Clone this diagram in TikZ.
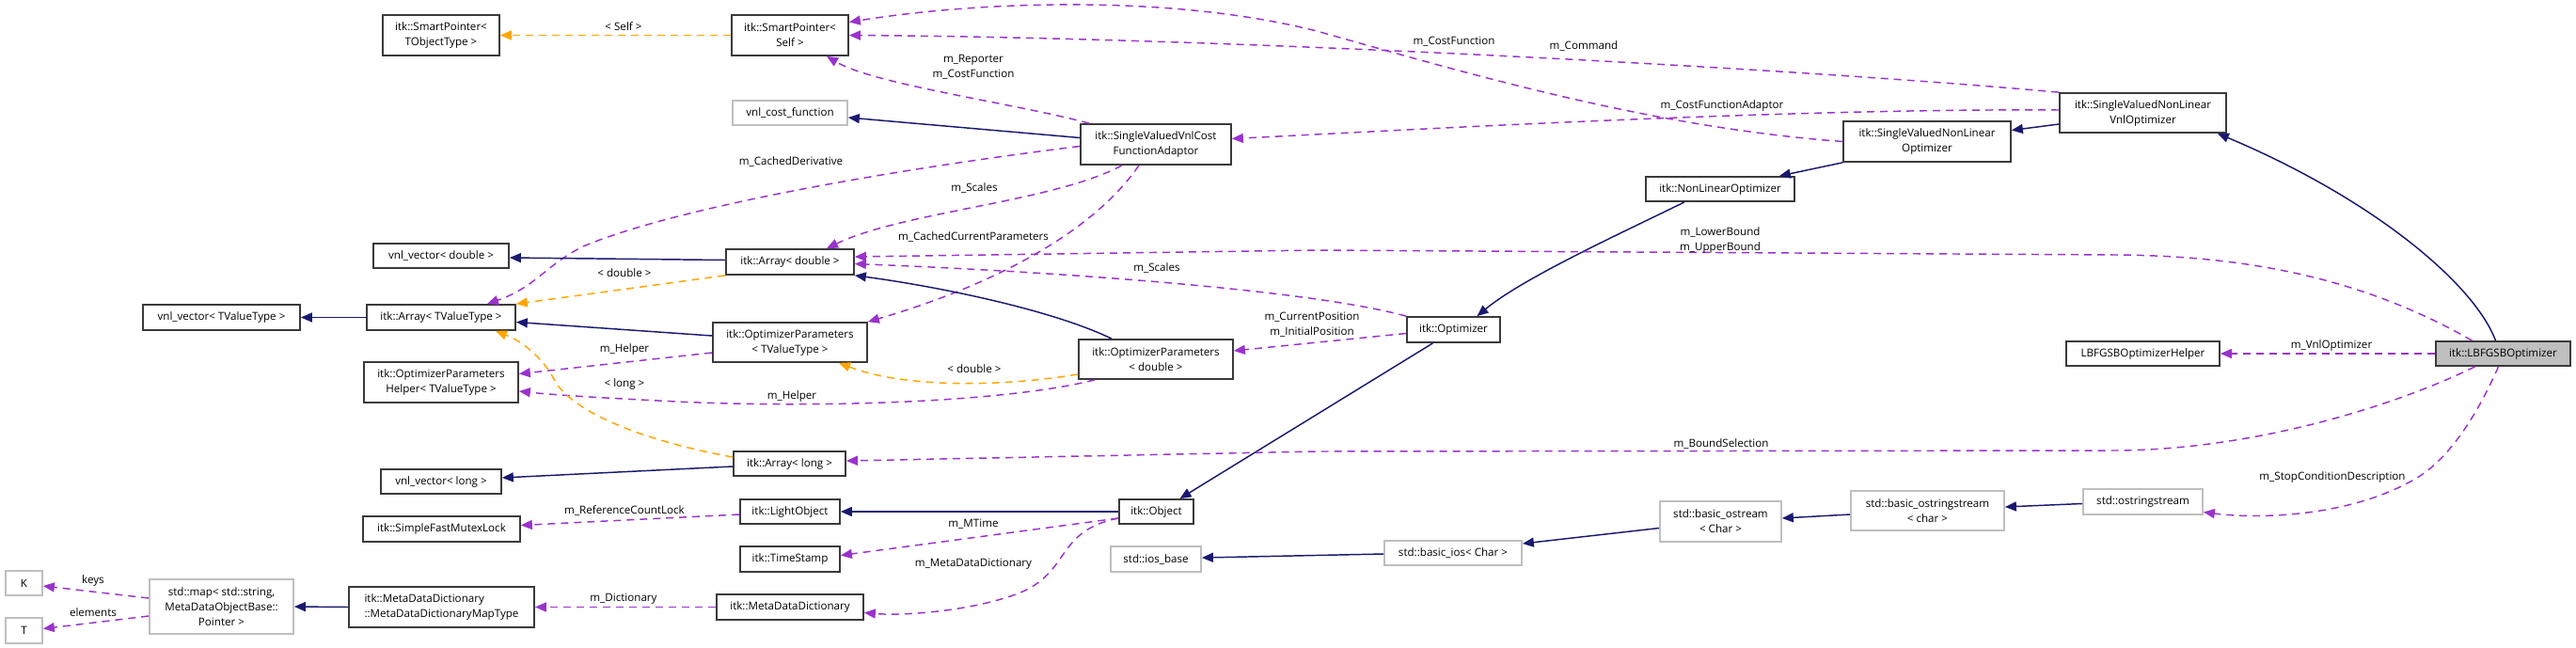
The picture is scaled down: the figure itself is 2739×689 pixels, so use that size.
\documentclass[tikz,border=0pt]{standalone}
\usepackage{fontspec}
\setmainfont{Open Sans}
\usetikzlibrary{arrows.meta,calc}
\definecolor{inh}{HTML}{191970}
\definecolor{use}{HTML}{9A32CD}
\definecolor{tmpl}{HTML}{FFA500}
\definecolor{ubx}{HTML}{BFBFBF}
\definecolor{bxd}{HTML}{3A3A3A}
\newcommand\fs{\fontsize{8.7}{12}\selectfont}
\tikzset{
  box/.style={draw=bxd, line width=1.3pt, fill=white, inner sep=0pt, align=center, font=\fs},
  gbox/.style={box, draw=ubx},
  sz/.style 2 args={minimum width=#1*0.75pt, minimum height=#2*0.75pt},
  inhe/.style={draw=inh, line width=1.1pt, -{Triangle[length=9pt,width=7.5pt]}},
  usee/.style={draw=use, line width=1.1pt, dash pattern=on 6pt off 4.5pt, -{Triangle[length=9pt,width=7.5pt]}},
  tmpe/.style={draw=tmpl, line width=1.1pt, dash pattern=on 6pt off 4.5pt, -{Triangle[length=9pt,width=7.5pt]}},
  lbl/.style={inner sep=0pt, align=center, font=\fs}
}
\begin{document}
\begin{tikzpicture}[x=0.75pt,y=-0.75pt]
\useasboundingbox (0,0) rectangle (2739,689);
% nodes
\node[box,sz={124}{43}] (sptobj) at (469,37.5) {itk::SmartPointer<\\TObjectType >};
\node[box,sz={124}{43}] (spself) at (840,37.5) {itk::SmartPointer<\\Self >};
\node[gbox,sz={122}{26}] (vnlcost) at (840,120) {vnl\_cost\_function};
\node[box,sz={160}{43}] (svcfa) at (1229,153.5) {itk::SingleValuedVnlCost\\FunctionAdaptor};
\node[box,sz={177}{42}] (svnlvnl) at (2278.5,120) {itk::SingleValuedNonLinear\\VnlOptimizer};
\node[box,sz={178}{43}] (svnl) at (2049,150.5) {itk::SingleValuedNonLinear\\Optimizer};
\node[box,sz={158}{26}] (nlo) at (1829,201) {itk::NonLinearOptimizer};
\node[box,sz={144}{26}] (vnlvd) at (469,272) {vnl\_vector< double >};
\node[box,sz={136}{27}] (arrd) at (840,278.5) {itk::Array< double >};
\node[box,sz={167}{27}] (vnlvt) at (235.5,337.5) {vnl\_vector< TValueType >};
\node[box,sz={158}{27}] (arrt) at (469,337.5) {itk::Array< TValueType >};
\node[box,sz={99}{27}] (opt) at (1545.5,350.5) {itk::Optimizer};
\node[box,sz={164}{42}] (optpt) at (840,364) {itk::OptimizerParameters\\< TValueType >};
\node[box,sz={164}{42}] (optpd) at (1229,382) {itk::OptimizerParameters\\< double >};
\node[box,sz={143}{26},fill=ubx] (lbfgsb) at (2661.5,376) {itk::LBFGSBOptimizer};
\node[box,sz={163}{26}] (helper) at (2278.5,376) {LBFGSBOptimizerHelper};
\node[box,sz={164}{43}] (opth) at (469,406.5) {itk::OptimizerParameters\\Helper< TValueType >};
\node[box,sz={119}{26}] (arrl) at (839.5,493) {itk::Array< long >};
\node[box,sz={128}{26}] (vnlvl) at (469,512) {vnl\_vector< long >};
\node[gbox,sz={127}{27}] (ostrs) at (2278.5,533.5) {std::ostringstream};
\node[gbox,sz={163}{42}] (bostrs) at (2049.5,543) {std::basic\_ostringstream\\< char >};
\node[gbox,sz={129}{43}] (bos) at (1829.5,554.5) {std::basic\_ostream\\< Char >};
\node[box,sz={106}{26}] (light) at (840,544) {itk::LightObject};
\node[box,sz={79}{26}] (obj) at (1229.5,544) {itk::Object};
\node[box,sz={167}{27}] (mutex) at (469.5,562.5) {itk::SimpleFastMutexLock};
\node[gbox,sz={146}{26}] (bios) at (1545,588) {std::basic\_ios< Char >};
\node[box,sz={106}{27}] (tstamp) at (840,594.5) {itk::TimeStamp};
\node[gbox,sz={96}{27}] (iosb) at (1229,594.5) {std::ios\_base};
\node[box,sz={156}{27}] (mdd) at (840,645.5) {itk::MetaDataDictionary};
\node[box,sz={197}{43},align=left] (mddmt) at (469.5,645.5) {itk::MetaDataDictionary\\::MetaDataDictionaryMapType};
\node[gbox,sz={153}{58}] (stdmap) at (235.5,645) {std::map< std::string,\\MetaDataObjectBase::\\Pointer >};
\node[gbox,sz={39}{26}] (K) at (25.5,620) {K};
\node[gbox,sz={39}{27}] (T) at (25.5,670.5) {T};
% edges
\draw[tmpe] (spself.west) -- (sptobj.east);
\draw[usee] (svnlvnl.north west) .. controls (1900,72) and (1300,40) .. (spself.east);
\draw[usee] (svnl.west) .. controls (1750,135) and (1550,75) .. (1400,33) .. controls (1250,-5) and (1050,0) .. ($(spself.east)+(0,-14)$);
\draw[usee] ($(svnlvnl.west)+(0,-3)$) .. controls (1900,115) and (1500,138) .. ($(svcfa.east)+(0,-6)$);
\draw[inhe] ($(svnlvnl.west)+(0,12)$) -- ($(svnl.east)+(0,-12)$);
\draw[inhe] (svnl.south west) -- ($(nlo.north east)+(-17,0)$);
\draw[inhe] ($(nlo.south)+(-38,0)$) .. controls (1730,245) and (1620,295) .. ($(opt.north)+(25,0)$);
\draw[inhe] ($(opt.south)+(-22,0)$) -- ($(obj.north)+(25,0)$);
\draw[inhe] (obj.west) -- (light.east);
\draw[usee] ($(light.west)+(0,3)$) -- ($(mutex.east)+(0,-4)$);
\draw[usee] ($(obj.west)+(0,7)$) -- ($(tstamp.east)+(0,-4)$);
\draw[usee] ($(obj.west)+(0,7)$) .. controls (1120,565) and (1140,610) .. (1080,632) .. controls (1030,650) and (960,655) .. ($(mdd.east)+(0,6)$);
\draw[usee] (mdd.west) -- (mddmt.east);
\draw[inhe] (mddmt.west) -- (stdmap.east);
\draw[usee] ($(stdmap.west)+(0,-9)$) -- ($(K.east)+(0,3)$);
\draw[usee] ($(stdmap.west)+(0,10)$) -- ($(T.east)+(0,-2)$);
\draw[usee] ($(opt.west)+(0,4)$) -- ($(optpd.east)+(0,-9)$);
\draw[usee] (opt.north west) .. controls (1400,310) and (1150,290) .. ($(arrd.east)+(0,2)$);
\draw[usee] ($(svcfa.north west)+(10,0)$) .. controls (1080,110) and (930,90) .. ($(spself.south)+(39,0)$);
\draw[inhe] ($(svcfa.west)+(0,-7)$) -- ($(vnlcost.east)+(0,5)$);
\draw[usee] ($(svcfa.west)+(0,2)$) .. controls (950,180) and (720,220) .. (620,262) .. controls (580,282) and (570,305) .. ($(arrt.north)+(49,0)$);
\draw[usee] ($(svcfa.south)+(-36,0)$) .. controls (1120,215) and (960,225) .. ($(arrd.north)+(39,0)$);
\draw[usee] ($(svcfa.south)+(-18,0)$) .. controls (1160,250) and (1050,305) .. (optpt.north east);
\draw[inhe] ($(arrd.west)+(0,-2)$) -- ($(vnlvd.east)+(0,2)$);
\draw[inhe] (arrt.west) -- (vnlvt.east);
\draw[tmpe] (arrd.south west) -- (arrt.north east);
\draw[inhe] ($(optpt.west)+(0,-7)$) -- ($(arrt.east)+(0,5)$);
\draw[inhe] ($(optpd.north)+(-47,0)$) .. controls (1120,330) and (1000,305) .. (arrd.south east);
\draw[tmpe] ($(optpd.west)+(0,16)$) .. controls (1060,412) and (960,412) .. ($(optpt.south)+(52,0)$);
\draw[usee] ($(optpt.west)+(0,11)$) -- ($(opth.east)+(0,-9)$);
\draw[usee] ($(optpd.south)+(-65,0)$) .. controls (1070,428) and (860,435) .. (700,426) .. controls (640,423) and (590,420) .. ($(opth.east)+(0,9.5)$);
\draw[inhe] ($(arrl.west)+(0,3)$) -- ($(vnlvl.east)+(0,-4)$);
\draw[tmpe] ($(arrl.west)+(0,-7)$) .. controls (690,470) and (610,440) .. (590,405) .. controls (580,385) and (560,365) .. ($(arrt.south)+(58,0)$);
\draw[usee] ($(lbfgsb.south)+(-30,0)$) .. controls (2550,430) and (2400,478) .. (2250,479) -- (1400,480) -- ($(arrl.east)+(0,-3)$);
\draw[usee] ($(lbfgsb.north)+(-33,0)$) .. controls (2520,300) and (2400,272) .. (2250,271) -- (1400,266) -- ($(arrd.east)+(0,-5.5)$);
\draw[inhe] ($(lbfgsb.north)+(-8,0)$) .. controls (2630,300) and (2520,210) .. ($(svnlvnl.south east)+(-10,0)$);
\draw[usee] (lbfgsb.west) -- (helper.east);
\draw[usee] ($(lbfgsb.south)+(-5,0)$) .. controls (2630,450) and (2600,490) .. (2570,508) .. controls (2500,550) and (2400,552) .. ($(ostrs.east)+(0,11)$);
\draw[inhe] ($(ostrs.west)+(0,2)$) -- ($(bostrs.east)+(0,-4)$);
\draw[inhe] ($(bostrs.west)+(0,4)$) -- ($(bos.east)+(0,-3.5)$);
\draw[inhe] ($(bos.west)+(0,7)$) -- ($(bios.east)+(0,-10)$);
\draw[inhe] ($(bios.west)+(0,1)$) -- ($(iosb.east)+(0,-1.5)$);
% labels
\node[lbl] (l1) at (663,28) {< Self >};
\node[lbl] (l2) at (1546,44) {m\_CostFunction};
\node[lbl] (l3) at (1684,49) {m\_Command};
\node[lbl] (l4) at (1831,112) {m\_CostFunctionAdaptor};
\node[lbl] (l5) at (1035,71.5) {m\_Reporter\\m\_CostFunction};
\node[lbl] (l6) at (841,172) {m\_CachedDerivative};
\node[lbl] (l7) at (1036,200) {m\_Scales};
\node[lbl] (l8) at (1035,252) {m\_CachedCurrentParameters};
\node[lbl] (l9) at (1230,285) {m\_Scales};
\node[lbl] (l10) at (1829,255) {m\_LowerBound\\m\_UpperBound};
\node[lbl] (l11) at (664,290) {< double >};
\node[lbl] (l12) at (1395,345) {m\_CurrentPosition\\m\_InitialPosition};
\node[lbl] (l13) at (664,371) {m\_Helper};
\node[lbl] (l14) at (1036,392) {< double >};
\node[lbl] (l15) at (664,408) {< long >};
\node[lbl] (l16) at (842,421) {m\_Helper};
\node[lbl] (l17) at (2479,367) {m\_VnlOptimizer};
\node[lbl] (l18) at (1830,472) {m\_BoundSelection};
\node[lbl] (l19) at (2480,507) {m\_StopConditionDescription};
\node[lbl] (l20) at (664,543) {m\_ReferenceCountLock};
\node[lbl] (l21) at (1035,557) {m\_MTime};
\node[lbl] (l22) at (1035,600) {m\_MetaDataDictionary};
\node[lbl] (l23) at (663,637) {m\_Dictionary};
\node[lbl] (l24) at (99,617) {keys};
\node[lbl] (l25) at (99,651) {elements};
\end{tikzpicture}
\end{document}
